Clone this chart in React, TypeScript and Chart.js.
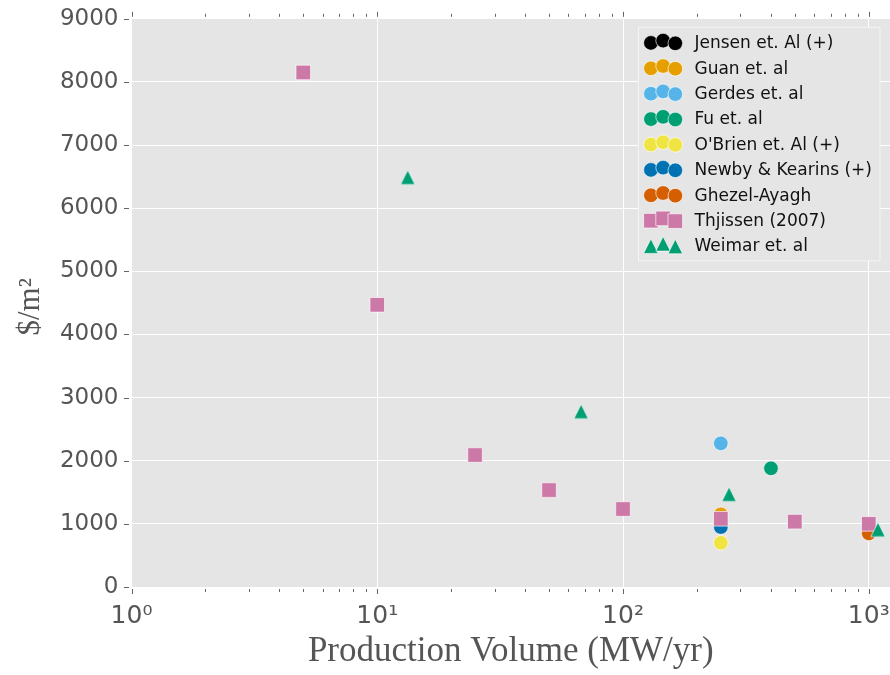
import React, { useEffect, useRef } from 'react';
import { Chart, registerables } from 'chart.js';

Chart.register(...registerables);

// ---------- data ----------
const seriesNames = [
  'Jensen et. Al (+)',
  'Guan et. al',
  'Gerdes et. al',
  'Fu et. al',
  "O'Brien et. Al (+)",
  'Newby & Kearins (+)',
  'Ghezel-Ayagh',
  'Thjissen (2007)',
  'Weimar et. al',
];
const seriesColors = ['#000000', '#E69F00', '#56B4E9', '#009E73', '#F0E442', '#0072B2', '#D55E00', '#CC79A7', '#009E73'];
const seriesMarkers = ['circle', 'circle', 'circle', 'circle', 'circle', 'circle', 'circle', 'square', 'triangle'];

const jensenX = [250];
const jensenY = [1000];
const guanX = [250];
const guanY = [1150];
const gerdesX = [250];
const gerdesY = [2275];
const fuX = [400];
const fuY = [1880];
const obrienX = [250];
const obrienY = [700];
const newbyX = [250];
const newbyY = [950];
const ghezelX = [1000];
const ghezelY = [850];
const thjissenX = [5, 10, 25, 50, 100, 250, 500, 1000];
const thjissenY = [8150, 4470, 2090, 1535, 1235, 1080, 1035, 1000];
const weimarX = [13.3, 67.5, 270, 1090];
const weimarY = [6490, 2780, 1470, 910];

const seriesX = [jensenX, guanX, gerdesX, fuX, obrienX, newbyX, ghezelX, thjissenX, weimarX];
const seriesY = [jensenY, guanY, gerdesY, fuY, obrienY, newbyY, ghezelY, thjissenY, weimarY];

const xMajorTicks = [1, 10, 100, 1000];
const xMajorLabels = ['10⁰', '10¹', '10²', '10³'];
const xMinorTicks = [2, 3, 4, 5, 6, 7, 8, 9, 20, 30, 40, 50, 60, 70, 80, 90, 200, 300, 400, 500, 600, 700, 800, 900];
const xMin = 1;
const xMax = 1220;
const yMin = 0;
const yMax = 9000;
const yStep = 1000;

const xTitle = 'Production Volume (MW/yr)';
const yTitle = '$/m² ';

// ---------- styles ----------
const BG = '#E5E5E5';
const TICK_COLOR = '#666';
const LABEL_COLOR = '#555';
const MARK = 7.3; // half size of markers

function makeTriangle(color: string): HTMLCanvasElement {
  const c = document.createElement('canvas');
  c.width = 20;
  c.height = 20;
  const g = c.getContext('2d')!;
  const h = 7.2;
  g.beginPath();
  g.moveTo(10, 10 - h);
  g.lineTo(10 - h, 10 + h);
  g.lineTo(10 + h, 10 + h);
  g.closePath();
  g.fillStyle = color;
  g.fill();
  g.strokeStyle = 'rgba(255,255,255,0.85)';
  g.lineWidth = 0.75;
  g.stroke();
  return c;
}

function drawMarker(ctx: CanvasRenderingContext2D, kind: string, color: string, x: number, y: number) {
  ctx.beginPath();
  if (kind === 'circle') {
    ctx.arc(x, y, MARK, 0, Math.PI * 2);
  } else if (kind === 'square') {
    ctx.rect(x - MARK, y - MARK, MARK * 2, MARK * 2);
  } else {
    ctx.moveTo(x, y - MARK);
    ctx.lineTo(x - MARK, y + MARK);
    ctx.lineTo(x + MARK, y + MARK);
    ctx.closePath();
  }
  ctx.fillStyle = color;
  ctx.fill();
  ctx.strokeStyle = 'rgba(255,255,255,0.85)';
  ctx.lineWidth = 0.75;
  ctx.stroke();
}

const bgPlugin = {
  id: 'bgPlugin',
  beforeDraw(chart: any) {
    const { ctx, chartArea: a } = chart;
    ctx.save();
    ctx.fillStyle = BG;
    ctx.fillRect(a.left, a.top, a.right - a.left, a.bottom - a.top);
    ctx.restore();
  },
};

const tickPlugin = {
  id: 'tickPlugin',
  afterDraw(chart: any) {
    const { ctx, chartArea: a, scales } = chart;
    const x = scales.x;
    const y = scales.y;
    ctx.save();
    ctx.strokeStyle = TICK_COLOR;
    ctx.lineWidth = 1;
    ctx.beginPath();
    const vx = (v: number, len: number) => {
      const px = Math.round(x.getPixelForValue(v)) + 0.5;
      ctx.moveTo(px, a.bottom + 2);
      ctx.lineTo(px, a.bottom + 2 + len);
      ctx.moveTo(px, a.top - 2);
      ctx.lineTo(px, a.top - 2 - len);
    };
    xMajorTicks.forEach((v) => vx(v, 5));
    xMinorTicks.forEach((v) => vx(v, 3));
    for (let v = yMin; v <= yMax; v += yStep) {
      const py = Math.round(y.getPixelForValue(v)) + 0.5;
      ctx.moveTo(a.left - 2.5, py);
      ctx.lineTo(a.left - 7.5, py);
    }
    ctx.stroke();
    ctx.restore();
  },
};

const legendPlugin = {
  id: 'customLegend',
  afterDraw(chart: any) {
    const { ctx, chartArea: a } = chart;
    const boxRight = a.right - 10;
    const boxW = 241.5;
    const boxL = boxRight - boxW;
    const boxT = a.top + 8.5;
    const rowH = 25.4;
    const boxH = 233.5;
    ctx.save();
    ctx.fillStyle = BG;
    ctx.fillRect(boxL, boxT, boxW, boxH);
    ctx.strokeStyle = '#F4F4F4';
    ctx.lineWidth = 1;
    ctx.strokeRect(boxL, boxT, boxW, boxH);
    const firstRow = boxT + 14.3;
    const mx = [boxL + 12.4, boxL + 24.6, boxL + 36.8];
    const my = [1.3, -1, 1.7];
    ctx.font = '17px "DejaVu Sans"';
    ctx.textBaseline = 'alphabetic';
    ctx.textAlign = 'left';
    seriesNames.forEach((name, i) => {
      const cy = firstRow + i * rowH;
      for (let k = 0; k < 3; k++) drawMarker(ctx, seriesMarkers[i], seriesColors[i], mx[k], cy + my[k]);
      ctx.fillStyle = '#111';
      ctx.fillText(name, boxL + 56, cy + 6.6);
    });
    ctx.restore();
  },
};

export default function App() {
  const ref = useRef<HTMLCanvasElement | null>(null);

  useEffect(() => {
    if (!ref.current) return;
    const datasets = seriesNames.map((name, i) => {
      const kind = seriesMarkers[i];
      const data = seriesX[i].map((xv, j) => ({ x: xv, y: seriesY[i][j] }));
      const base: any = {
        label: name,
        data,
        showLine: false,
        order: seriesNames.length - i,
        backgroundColor: seriesColors[i],
        borderColor: 'rgba(255,255,255,0.85)',
        borderWidth: 0.75,
      };
      if (kind === 'circle') {
        base.pointStyle = 'circle';
        base.pointRadius = MARK;
      } else if (kind === 'square') {
        base.pointStyle = 'rect';
        base.pointRadius = MARK * Math.SQRT2;
      } else {
        base.pointStyle = makeTriangle(seriesColors[i]);
        base.pointRadius = MARK;
      }
      return base;
    });

    const chart = new Chart(ref.current, {
      type: 'scatter',
      data: { datasets },
      options: {
        responsive: false,
        animation: false,
        devicePixelRatio: 1,
        events: [],
        layout: { autoPadding: false, padding: { top: 18.8, left: 0, right: 0, bottom: 0 } },
        plugins: { legend: { display: false }, tooltip: { enabled: false } },
        scales: {
          x: {
            type: 'logarithmic',
            min: xMin,
            max: xMax,
            afterBuildTicks: (s: any) => {
              s.ticks = [...xMajorTicks, ...xMinorTicks].sort((p, q) => p - q).map((v) => ({ value: v }));
            },
            afterFit: (s: any) => {
              s.height = 88;
              s.paddingLeft = 0;
              s.paddingRight = 0;
            },
            border: { display: false },
            grid: {
              drawTicks: false,
              lineWidth: 1,
              color: (c: any) => (c.tick && xMajorTicks.includes(c.tick.value) ? '#FFFFFF' : 'rgba(0,0,0,0)'),
            },
            ticks: {
              autoSkip: false,
              maxRotation: 0,
              minRotation: 0,
              padding: 14,
              color: LABEL_COLOR,
              font: { family: 'DejaVu Sans', size: 25 },
              callback: (v: any) => {
                const idx = xMajorTicks.indexOf(Number(v));
                return idx >= 0 ? xMajorLabels[idx] : '';
              },
            },
            title: {
              display: true,
              text: xTitle,
              color: LABEL_COLOR,
              font: { family: 'Liberation Serif', size: 35 },
              padding: { top: 0, bottom: 2 },
            },
          },
          y: {
            type: 'linear',
            min: yMin,
            max: yMax,
            afterFit: (s: any) => {
              s.width = 131.5;
              s.paddingTop = 0;
              s.paddingBottom = 0;
            },
            border: { display: false },
            grid: { drawTicks: false, color: '#FFFFFF', lineWidth: 1 },
            ticks: {
              stepSize: yStep,
              padding: 13,
              color: LABEL_COLOR,
              font: { family: 'DejaVu Sans', size: 23 },
              callback: (v: any) => String(v),
            },
            title: {
              display: true,
              text: yTitle,
              color: LABEL_COLOR,
              font: { family: 'Liberation Serif', size: 31 },
              padding: { top: 12, bottom: 0 },
            },
          },
        },
      },
      plugins: [bgPlugin, tickPlugin, legendPlugin],
    });
    return () => chart.destroy();
  }, []);

  return (
    <div style={{ position: 'fixed', left: 0, top: 0, width: 890, height: 675, overflow: 'hidden', background: '#fff' }}>
      <canvas ref={ref} width={890} height={675} style={{ width: 890, height: 675, display: 'block' }} />
    </div>
  );
}
